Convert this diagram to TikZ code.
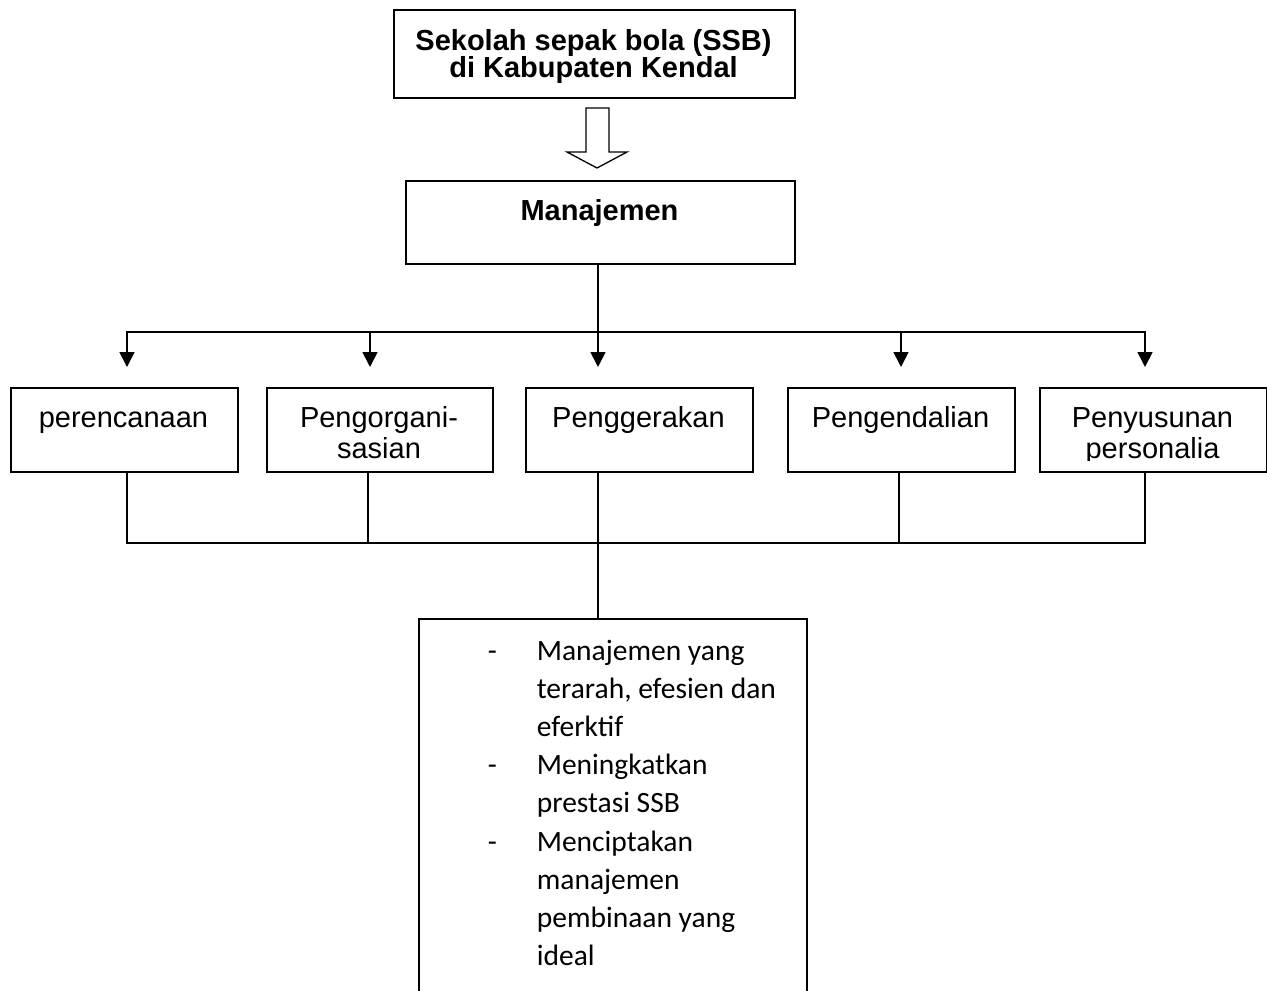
\documentclass[tikz,border=0pt]{standalone}
\usepackage{fontspec}
\setmainfont{Liberation Sans}
\newfontfamily\calfont{Carlito}
\usetikzlibrary{arrows.meta,calc}
\newcommand\txtlines[2]{\vtop{\baselineskip=#1\lineskiplimit=-\maxdimen\lineskip=0pt\halign{\hfil##\hfil\cr#2\crcr}}}
\newcommand\leftlines[2]{\vtop{\baselineskip=#1\lineskiplimit=-\maxdimen\lineskip=0pt\halign{\hbox to 49pt{##\hfil}&##\hfil\cr#2\crcr}}}
\begin{document}
\begin{tikzpicture}[x=1pt,y=-1pt,line width=1.7pt,
  box/.style={draw,rectangle,inner sep=0pt,anchor=north west},
  lbl/.style={inner sep=0pt,anchor=base,font=\fontsize{29}{31}\selectfont},
  arr/.style={-{Triangle[length=15pt,width=15pt]},shorten >=20pt}]
\useasboundingbox (0,0) rectangle (1267,991);

% top box
\node[box,minimum width=401pt,minimum height=88pt] (top) at (393,9) {};
\node[lbl,font=\bfseries\fontsize{29}{27}\selectfont] (toptxt) at (593.5,50)
  {\txtlines{27.5pt}{Sekolah sepak bola (SSB)\cr di Kabupaten Kendal}};

% hollow block arrow
\draw[line width=1.3pt] (586,108) -- (609,108) -- (609,152) -- (627,152) -- (597,168)
  -- (567,152) -- (586,152) -- cycle;

% Manajemen
\node[box,minimum width=389pt,minimum height=83pt] (man) at (405,180) {};
\node[lbl,font=\bfseries\fontsize{29}{31}\selectfont] (mantxt) at (599.5,220) {Manajemen};

% five boxes
\node[box,minimum width=227pt,minimum height=84pt] (b1) at (10,387) {};
\node[box,minimum width=226pt,minimum height=84pt] (b2) at (266,387) {};
\node[box,minimum width=227pt,minimum height=84pt] (b3) at (525,387) {};
\node[box,minimum width=227pt,minimum height=84pt] (b4) at (787,387) {};
\node[box,minimum width=227pt,minimum height=84pt] (b5) at (1039,387) {};

\node[lbl] (t1) at (123.5,427) {perencanaan};
\node[lbl] (t2) at (379,427) {\txtlines{31pt}{Pengorgani-\cr sasian}};
\node[lbl] (t3) at (638.5,427) {Penggerakan};
\node[lbl] (t4) at (900.5,427) {Pengendalian};
\begin{scope}
  \clip (1039,387) rectangle (1266,460);
  \node[lbl] (t5) at (1152.5,427) {\txtlines{31pt}{Penyusunan\cr personalia}};
\end{scope}

% top bus
\coordinate (a1) at (127,332);
\coordinate (a2) at (370,332);
\coordinate (a3) at (598,332);
\coordinate (a4) at (901,332);
\coordinate (a5) at (1145,332);
\draw (man.south -| a3) -- (a3);
\draw[arr] (a3) -| (b1.north -| a1);
\draw[arr] (a3) -| (b5.north -| a5);
\draw[arr] (a2) -- (b2.north -| a2);
\draw[arr] (a3) -- (b3.north -| a3);
\draw[arr] (a4) -- (b4.north -| a4);

% bottom bus
\coordinate (u1) at (127,543);
\coordinate (u2) at (368,543);
\coordinate (u3) at (598,543);
\coordinate (u4) at (899,543);
\coordinate (u5) at (1145,543);

% result box (open at the bottom of the page)
\node[box,minimum width=388pt,minimum height=420pt] (res) at (418,618) {};

\draw (b1.south -| u1) -- (u1) -- (u5) -- (b5.south -| u5);
\draw (b2.south -| u2) -- (u2);
\draw (b3.south -| u3) -- (res.north -| u3);
\draw (b4.south -| u4) -- (u4);

\node[inner sep=0pt,anchor=base west,font=\calfont\fontsize{29.5}{38}\selectfont] (list) at (487,660)
  {\leftlines{38.2pt}{-&Manajemen yang\cr &terarah, efesien dan\cr &eferktif\cr
   -&Meningkatkan\cr &prestasi SSB\cr -&Menciptakan\cr &manajemen\cr
   &pembinaan yang\cr &ideal}};
\end{tikzpicture}
\end{document}
